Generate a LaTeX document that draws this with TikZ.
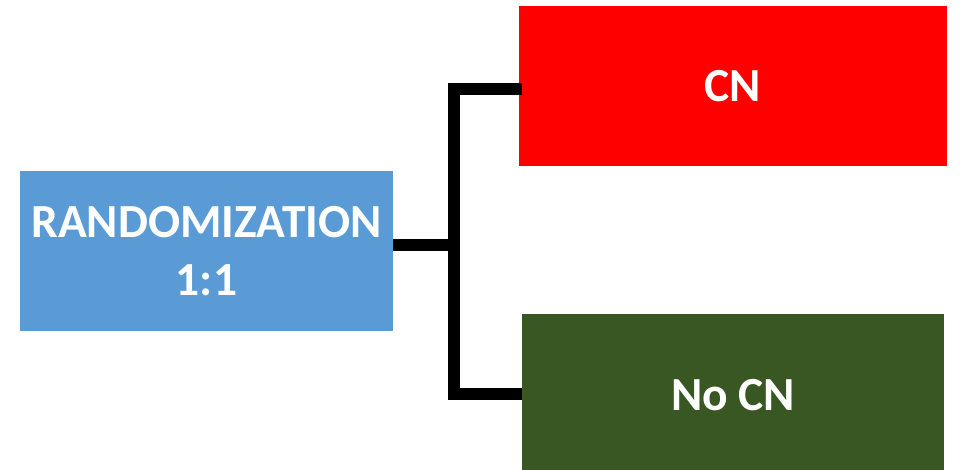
\documentclass[tikz,border=0pt]{standalone}
\usepackage{fontspec}
\setmainfont{Carlito}
\definecolor{randblue}{HTML}{5B9BD5}
\definecolor{armred}{HTML}{FF0000}
\definecolor{armgreen}{HTML}{385723}
\tikzset{
  box/.style={rectangle, inner sep=0pt, draw=none, text=white, align=center,
    font=\fontsize{47.5}{57.7}\selectfont\bfseries},
  conn/.style={line width=12pt, draw=black, line join=miter, line cap=butt}
}
\begin{document}
\begin{tikzpicture}[x=1pt, y=-1pt]
  % page frame, 960 x 470
  \clip (0,0) rectangle (960,470);
  \fill[white] (0,0) rectangle (960,470);

  % boxes
  \node[box, fill=randblue, minimum width=373pt, minimum height=160pt]
    (rand) at (206.5,250.8) {RANDOMIZATION\\1:1};
  \node[box, fill=armred, minimum width=428pt, minimum height=160pt]
    (cn) at (733,86) {CN};
  \node[box, fill=armgreen, minimum width=422pt, minimum height=162pt]
    (nocn) at (733,395) {No CN};

  % bracket joints
  \coordinate (j) at (453.5,245);
  \coordinate (t) at (453.5,89);
  \coordinate (b) at (453.5,393.5);

  % connectors
  \draw[conn] (rand.east |- j) -- (j);
  \draw[conn] ([xshift=3pt]cn.west |- t) -- (t) -- (b) -- (nocn.west |- b);
\end{tikzpicture}
\end{document}
